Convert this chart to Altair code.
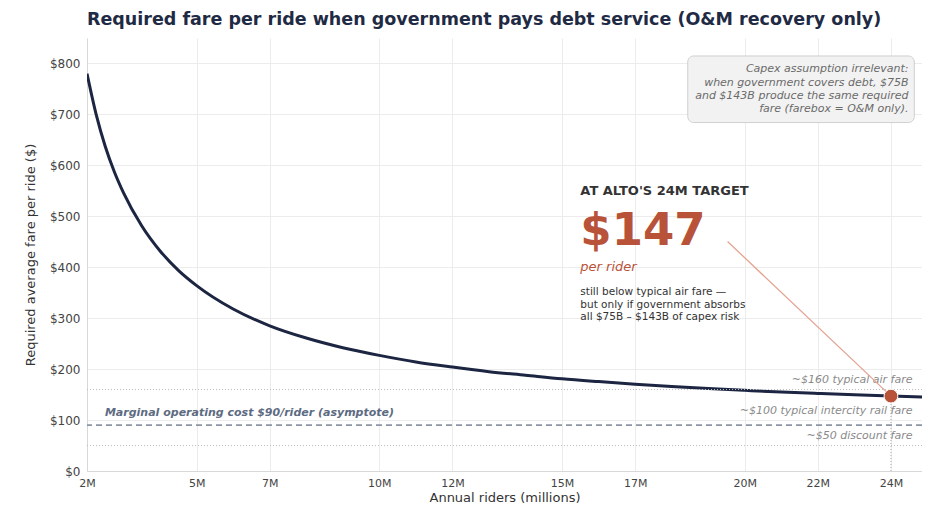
import altair as alt
import pandas as pd

# Curve: annual riders (millions) vs required fare ($)
riders = [2, 2.25, 2.5, 2.75, 3, 3.5, 4, 4.5, 5, 6, 7, 8, 9, 10, 11, 12, 13, 14,
          15, 16, 17, 18, 19, 20, 21, 22, 23, 24, 25]
fare = [780, 700, 637, 587, 546, 481, 432, 394, 364, 318, 285, 261, 242, 227, 214,
        204, 195, 188, 181, 175.5, 170.5, 166, 162, 158.4, 155, 152.2, 149.5, 147, 144.7]

x_ticks = [2, 5, 7, 10, 12, 15, 17, 20, 22, 24]
y_ticks = [0, 100, 200, 300, 400, 500, 600, 700, 800]

target_riders = [24]
target_fare = [147]

ref_dotted = [160, 50]
ref_labels = ["~$160 typical air fare", "~$100 typical intercity rail fare", "~$50 discount fare"]
ref_label_y = [178, 118, 68.5]
asymptote = [90]

box_lines = ["Capex assumption irrelevant:",
             "when government covers debt, $75B",
             "and $143B produce the same required",
             "fare (farebox = O&M only)."]
box_line_y = [789, 762.5, 736.5, 710]

note_lines = ["still below typical air fare \u2014",
              "but only if government absorbs",
              "all $75B \u2013 $143B of capex risk"]
note_line_y = [351, 325, 302]

FONT = "DejaVu Sans"
NAVY = "#1c2541"
RUST = "#b8533a"

xs = alt.Scale(domain=[2, 24.85], nice=False, zero=False)
ys = alt.Scale(domain=[0, 850], nice=False)

curve_df = pd.DataFrame({"riders": riders, "fare": fare})

curve = alt.Chart(curve_df).mark_line(color=NAVY, strokeWidth=3, interpolate="monotone", clip=True).encode(
    x=alt.X("riders:Q", scale=xs,
            axis=alt.Axis(values=x_ticks, labelExpr="datum.value + 'M'", title="Annual riders (millions)",
                          grid=True, gridColor="#ececec", ticks=False, domainColor="#d8d8d8",
                          labelColor="#444", labelFontSize=11, labelPadding=6, titleFontSize=13,
                          titleColor="#333", titleFontWeight="normal", titlePadding=3,
                          labelFlush=False, labelFont=FONT, titleFont=FONT)),
    y=alt.Y("fare:Q", scale=ys,
            axis=alt.Axis(values=y_ticks, labelExpr="'$' + datum.value", title="Required average fare per ride ($)",
                          grid=True, gridColor="#ececec", ticks=False, domainColor="#d8d8d8",
                          labelColor="#444", labelFontSize=12, labelPadding=7, titleFontSize=13,
                          titleColor="#333", titleFontWeight="normal", titlePadding=12,
                          labelFlush=False, labelFont=FONT, titleFont=FONT)),
)

dotted = alt.Chart(pd.DataFrame({"v": ref_dotted})).mark_rule(
    color="#bdbdbd", strokeDash=[1, 2], strokeWidth=1).encode(y=alt.Y("v:Q", scale=ys))

asym = alt.Chart(pd.DataFrame({"v": asymptote})).mark_rule(
    color="#8c95a3", strokeDash=[6, 4], strokeWidth=1.6).encode(y=alt.Y("v:Q", scale=ys))

ref_text = alt.Chart(pd.DataFrame({"t": ref_labels, "y": ref_label_y, "x": [24.59] * 3})).mark_text(
    align="right", baseline="middle", font=FONT, fontSize=11, fontStyle="italic", color="#8a8a8a").encode(
    x=alt.X("x:Q", scale=xs), y=alt.Y("y:Q", scale=ys), text="t:N")

asym_text = alt.Chart(pd.DataFrame({"t": ["Marginal operating cost $90/rider (asymptote)"], "x": [2.49], "y": [113]})).mark_text(
    align="left", baseline="middle", font=FONT, fontSize=11, fontStyle="italic", fontWeight="bold", color="#5d6b82").encode(
    x=alt.X("x:Q", scale=xs), y=alt.Y("y:Q", scale=ys), text="t:N")

vline = alt.Chart(pd.DataFrame({"x": target_riders, "y0": [0], "y1": target_fare})).mark_rule(
    color="#aaaaaa", strokeDash=[1, 2], strokeWidth=1).encode(
    x=alt.X("x:Q", scale=xs), y=alt.Y("y0:Q", scale=ys), y2="y1:Q")

connector = alt.Chart(pd.DataFrame({"x": [19.53], "y": [450.4], "x2": target_riders, "y2": target_fare})).mark_rule(
    color="#e3a493", strokeWidth=1.3).encode(
    x=alt.X("x:Q", scale=xs), y=alt.Y("y:Q", scale=ys), x2="x2:Q", y2="y2:Q")

point = alt.Chart(pd.DataFrame({"x": target_riders, "y": target_fare})).mark_point(
    filled=True, size=190, color=RUST, opacity=1, stroke="white", strokeWidth=1).encode(
    x=alt.X("x:Q", scale=xs), y=alt.Y("y:Q", scale=ys))

box = alt.Chart(pd.DataFrame({"x": [18.44], "x2": [24.64], "y": [684], "y2": [814.7]})).mark_rect(
    fill="#f2f2f2", stroke="#cfcfcf", strokeWidth=1, cornerRadius=6).encode(
    x=alt.X("x:Q", scale=xs), x2="x2:Q", y=alt.Y("y:Q", scale=ys), y2="y2:Q")

box_text = alt.Chart(pd.DataFrame({"t": box_lines, "y": box_line_y, "x": [24.48] * 4})).mark_text(
    align="right", baseline="middle", font=FONT, fontSize=11, fontStyle="italic", color="#6a6a6a").encode(
    x=alt.X("x:Q", scale=xs), y=alt.Y("y:Q", scale=ys), text="t:N")

head = alt.Chart(pd.DataFrame({"t": ["AT ALTO'S 24M TARGET"], "x": [15.5], "y": [549]})).mark_text(
    align="left", baseline="middle", font=FONT, fontSize=13, fontWeight="bold", color="#333333").encode(
    x=alt.X("x:Q", scale=xs), y=alt.Y("y:Q", scale=ys), text="t:N")

big = alt.Chart(pd.DataFrame({"t": ["$147"], "x": [15.5], "y": [444.6]})).mark_text(
    align="left", baseline="alphabetic", font=FONT, fontSize=45, fontWeight="bold", color=RUST).encode(
    x=alt.X("x:Q", scale=xs), y=alt.Y("y:Q", scale=ys), text="t:N")

per = alt.Chart(pd.DataFrame({"t": ["per rider"], "x": [15.5], "y": [391.7]})).mark_text(
    align="left", baseline="alphabetic", font=FONT, fontSize=13, fontStyle="italic", color=RUST).encode(
    x=alt.X("x:Q", scale=xs), y=alt.Y("y:Q", scale=ys), text="t:N")

note = alt.Chart(pd.DataFrame({"t": note_lines, "y": note_line_y, "x": [15.5] * 3})).mark_text(
    align="left", baseline="middle", font=FONT, fontSize=10.5, color="#333333").encode(
    x=alt.X("x:Q", scale=xs), y=alt.Y("y:Q", scale=ys), text="t:N")

chart = alt.layer(
    curve, dotted, asym, vline, ref_text, asym_text, connector, box, box_text,
    head, big, per, note, point
).properties(
    width=835, height=433,
    title=alt.Title("Required fare per ride when government pays debt service (O&M recovery only)",
                    anchor="start", frame="group", font=FONT, fontSize=17.5, fontWeight="bold",
                    color="#1f2a44", offset=10),
    autosize=alt.AutoSizeParams(type="none"),
    padding={"left": 79, "top": 30, "right": 0, "bottom": 34},
).configure_view(stroke=None)

chart.save("out.html", embed_options={"renderer": "svg", "actions": False})
